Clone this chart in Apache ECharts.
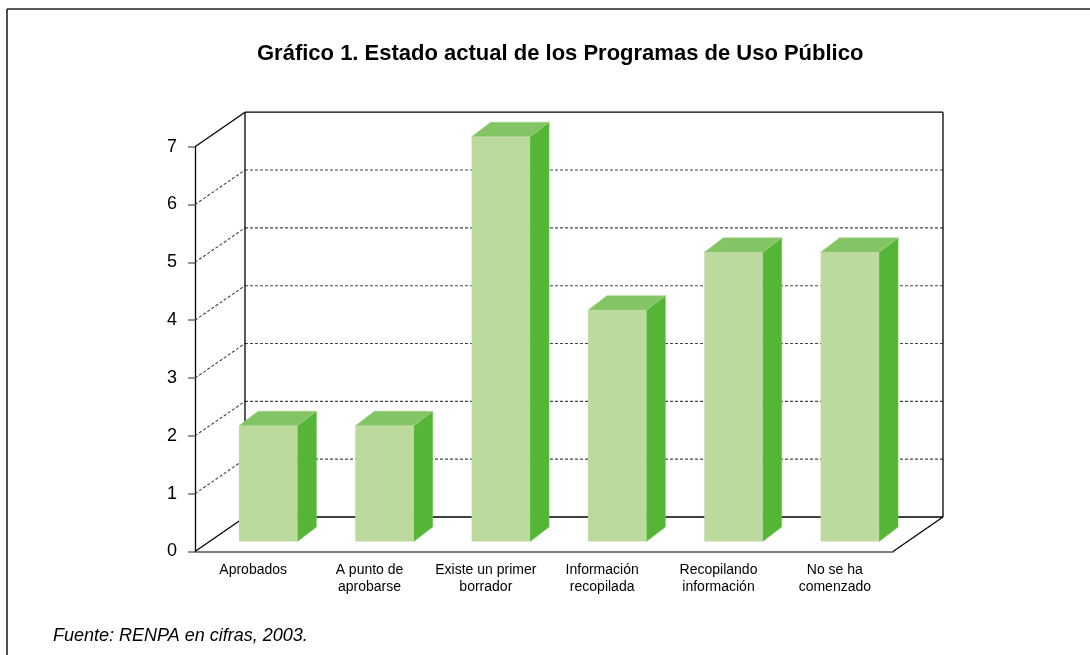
<!DOCTYPE html>
<html>
<head>
<meta charset="utf-8">
<title>Estado actual de los Programas de Uso Público</title>
<script src="https://cdn.jsdelivr.net/npm/echarts@6/dist/echarts.min.js"></script>
<style>
  html, body { margin: 0; padding: 0; background: #fff; }
  #chart { width: 1090px; height: 655px; }
</style>
</head>
<body>
<div id="chart"></div>
<script>
// datos
const categories = [
  'Aprobados',
  'A punto de\naprobarse',
  'Existe un primer\nborrador',
  'Información\nrecopilada',
  'Recopilando\ninformación',
  'No se ha\ncomenzado'
];
const values = [2, 2, 7, 4, 5, 5];
const yTicks = [0, 1, 2, 3, 4, 5, 6, 7];

// profundidad del "3D" (pixeles)
const WALL_DX = 50, WALL_DY = -34.5;   // pared del fondo
const BAR_OX = 15, BAR_OY = -10;       // cara frontal de la barra
const BAR_DX = 19, BAR_DY = -14.5;     // fondo de la barra

const chart = echarts.init(document.getElementById('chart'));

// paredes: rejilla del fondo + diagonales de la pared izquierda
function renderWalls(params, api) {
  const cs = params.coordSys;
  const L = cs.x, R = cs.x + cs.width;
  const v = api.value(0);
  const y = api.coord([0, v])[1];
  const edge = v === yTicks[0] || v === yTicks[yTicks.length - 1];
  const solid = { stroke: '#000', lineWidth: 1.3, fill: null };
  const dash = { stroke: '#444', lineWidth: 1.1, lineDash: [3, 2], fill: null };
  const st = edge ? solid : dash;
  const children = [
    { type: 'line', shape: { x1: L, y1: y, x2: L + WALL_DX, y2: y + WALL_DY }, style: st },
    { type: 'line', shape: { x1: L + WALL_DX, y1: y + WALL_DY, x2: R + WALL_DX, y2: y + WALL_DY }, style: st }
  ];
  if (v === yTicks[0]) {
    children.push({ type: 'line', shape: { x1: R, y1: y, x2: R + WALL_DX, y2: y + WALL_DY }, style: solid });
  }
  if (v === yTicks[yTicks.length - 1]) {
    const y0 = api.coord([0, yTicks[0]])[1];
    children.push({ type: 'line', shape: { x1: L + WALL_DX, y1: y + WALL_DY, x2: L + WALL_DX, y2: y0 + WALL_DY }, style: solid });
    children.push({ type: 'line', shape: { x1: R + WALL_DX, y1: y + WALL_DY, x2: R + WALL_DX, y2: y0 + WALL_DY }, style: solid });
  }
  return { type: 'group', children: children };
}

// barras 3D
function renderBar(params, api) {
  const idx = api.value(0);
  const top = api.coord([idx, api.value(1)]);
  const bot = api.coord([idx, 0]);
  const w = api.size([1, 0])[0] * 0.502;
  const x0 = top[0] - w / 2 + BAR_OX, x1 = x0 + w;
  const yt = top[1] + BAR_OY, yb = bot[1] + BAR_OY;
  return {
    type: 'group',
    children: [
      {
        type: 'polygon',
        shape: { points: [[x1, yt], [x1 + BAR_DX, yt + BAR_DY], [x1 + BAR_DX, yb + BAR_DY], [x1, yb]] },
        style: { fill: '#55b536', stroke: '#6fc94f', lineWidth: 0.6 }
      },
      {
        type: 'polygon',
        shape: { points: [[x0, yt], [x1, yt], [x1 + BAR_DX, yt + BAR_DY], [x0 + BAR_DX, yt + BAR_DY]] },
        style: { fill: '#83c564', stroke: '#9bd37f', lineWidth: 0.6 }
      },
      {
        type: 'rect',
        shape: { x: x0, y: yt, width: w, height: yb - yt },
        style: { fill: '#bcd99e' }
      }
    ]
  };
}

const option = {
  animation: false,
  backgroundColor: '#fff',
  textStyle: { fontFamily: 'Liberation Sans, Arial, sans-serif' },
  title: [
    {
      text: 'Gráfico 1. Estado actual de los Programas de Uso Público',
      left: 252,
      top: 38,
      textStyle: { fontSize: 22, fontWeight: 'bold', color: '#000' }
    },
    {
      text: 'Fuente: RENPA en cifras, 2003.',
      left: 48,
      top: 622,
      textStyle: { fontSize: 18, fontStyle: 'italic', fontWeight: 'normal', color: '#000' }
    }
  ],
  grid: { left: 195, right: 197, top: 146.7, bottom: 103.5 },
  xAxis: {
    type: 'category',
    data: categories,
    axisLine: { lineStyle: { color: '#808080', width: 2 } },
    axisTick: { length: 6, lineStyle: { color: '#606060', width: 1.5 } },
    axisLabel: { interval: 0, fontSize: 14, lineHeight: 17, color: '#000', margin: 10 },
    splitLine: { show: false }
  },
  yAxis: {
    type: 'value',
    min: 0,
    max: 7,
    interval: 1,
    axisLine: { show: true, lineStyle: { color: '#000', width: 1.3 } },
    axisTick: { show: true, length: 7, lineStyle: { color: '#707070', width: 1.5 } },
    axisLabel: { fontSize: 18, color: '#000', margin: 18 },
    splitLine: { show: false }
  },
  graphic: [
    { type: 'line', shape: { x1: 7, y1: 9, x2: 1090, y2: 9 }, style: { stroke: '#222', lineWidth: 1.6 } },
    { type: 'line', shape: { x1: 7, y1: 9, x2: 7, y2: 655 }, style: { stroke: '#222', lineWidth: 1.6 } }
  ],
  series: [
    {
      type: 'custom',
      name: 'paredes',
      renderItem: renderWalls,
      data: yTicks.map(v => [v]),
      encode: { y: 0 },
      silent: true,
      z: 1
    },
    {
      type: 'custom',
      name: 'Programas',
      renderItem: renderBar,
      data: values.map((v, i) => [i, v]),
      encode: { x: 0, y: 1 },
      z: 5
    }
  ]
};

chart.setOption(option);
</script>
</body>
</html>
